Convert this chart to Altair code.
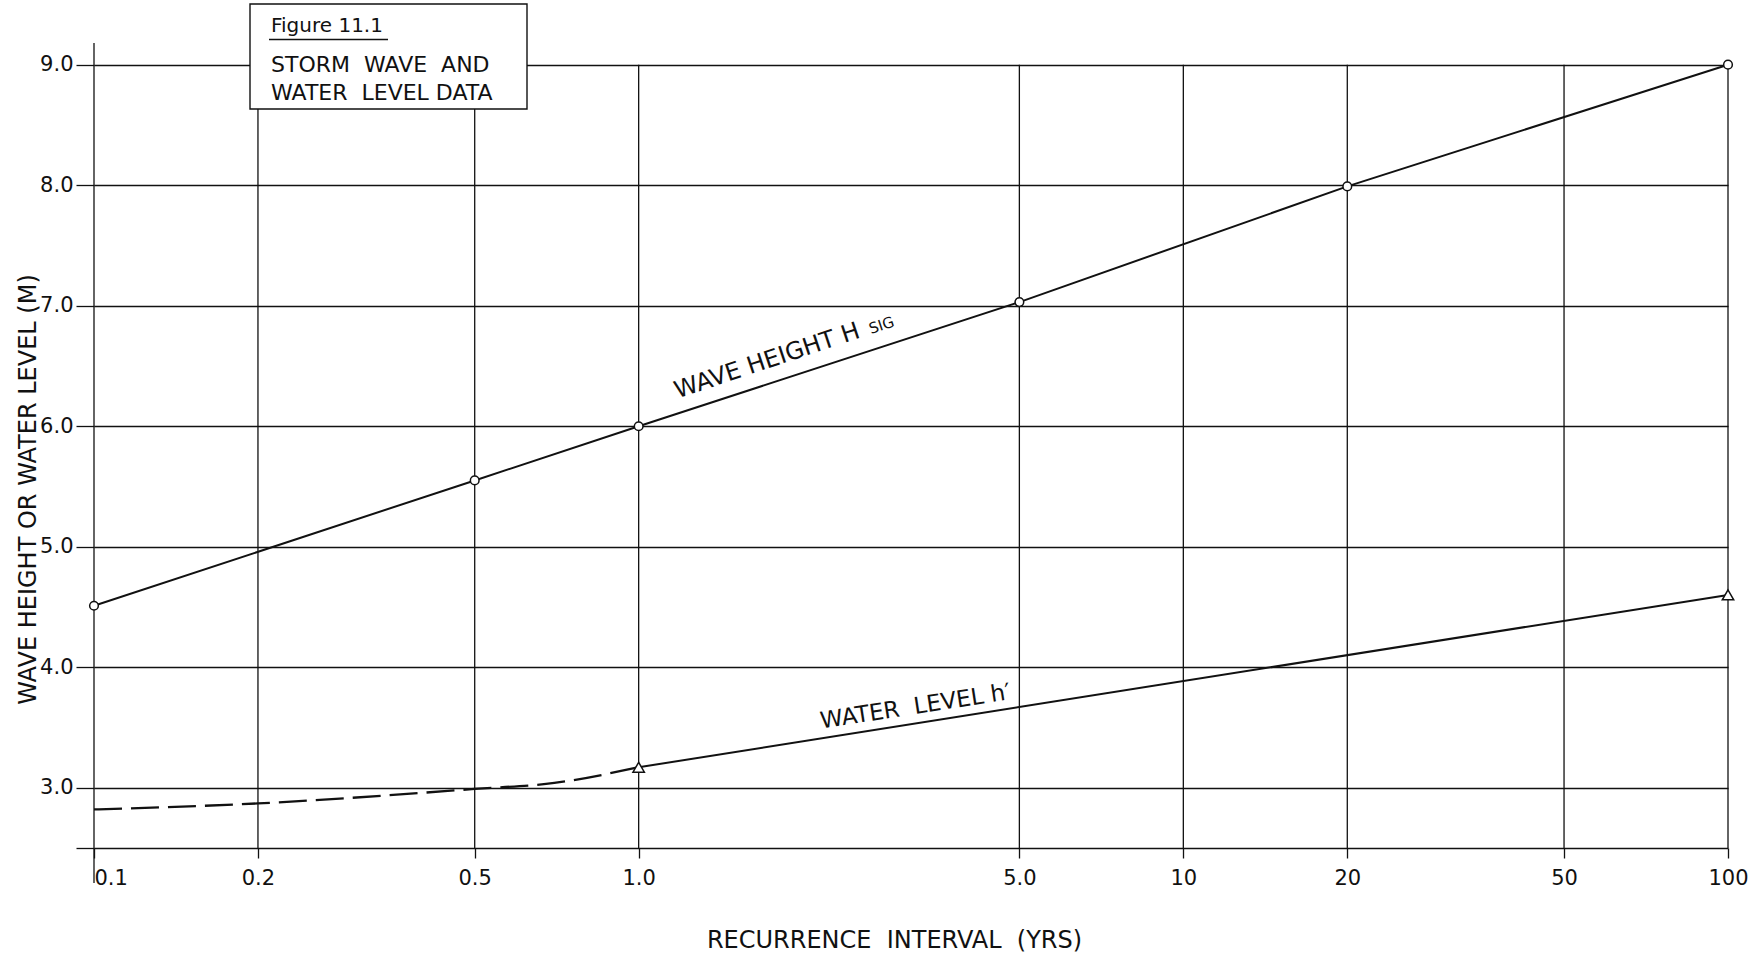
import altair as alt
import pandas as pd

FONT = "DejaVu Sans"
INK = "#111111"
SP2 = " \u00a0"  # wide word gap that survives SVG whitespace collapsing

# Significant wave height against recurrence interval
wave_period = [0.1, 0.5, 1.0, 5.0, 20, 100]
wave_height = [4.51, 5.55, 6.0, 7.03, 7.99, 9.0]

# Storm water level: estimated (dashed) below one year, fitted (solid) above
level_period_est = [0.1, 0.2, 0.5, 0.7, 1.0]
level_est = [2.82, 2.87, 2.99, 3.04, 3.17]
level_period = [1.0, 100]
level = [3.17, 4.6]
level_marker_period = [1.0, 100]
level_marker = [3.17, 4.6]

x_ticks = [0.1, 0.2, 0.5, 1.0, 5.0, 10, 20, 50, 100]
x_tick_labels = ["0.1", "0.2", "0.5", "1.0", "5.0", "10", "20", "50", "100"]
y_ticks = [2.5, 3.0, 4.0, 5.0, 6.0, 7.0, 8.0, 9.0]

box_lines = ["Figure 11.1", f"STORM{SP2}WAVE{SP2}AND", f"WATER{SP2}LEVEL DATA"]

X_MIN, X_MAX = 0.1, 100
Y_MIN, Y_MAX = 2.5, 9.18
W, H = 1634, 805

x_label_expr = " : ".join(
    f"datum.value == {v} ? '{lab}'" for v, lab in zip(x_ticks, x_tick_labels)
) + " : ''"

x_scale = alt.Scale(type="log", domain=[X_MIN, X_MAX], nice=False)
y_scale = alt.Scale(domain=[Y_MIN, Y_MAX], nice=False, zero=False)

x_axis = alt.Axis(
    values=x_ticks, labelExpr=x_label_expr, grid=False, domain=False,
    tickSize=10, tickColor=INK, tickWidth=1.3,
    labelFont=FONT, labelFontSize=21, labelColor=INK, labelPadding=9,
    labelAlign={"condition": {"test": "datum.value == 0.1", "value": "left"}, "value": "center"},
    labelFlush=False, labelOverlap=False, labelBaseline="top",
    title=f"RECURRENCE{SP2}INTERVAL{SP2}(YRS)", titleFont=FONT, titleFontSize=24,
    titleFontWeight="normal", titleColor=INK, titleX=800, titleY=92,
    titleAlign="center", titleBaseline="middle",
)
y_axis = alt.Axis(
    values=y_ticks, labelExpr="datum.value == 2.5 ? '' : format(datum.value, '.1f')",
    grid=True, gridColor=INK, gridWidth=1.3, gridOpacity=1, domain=False,
    tickSize=18, tickColor=INK, tickWidth=1.3,
    labelFont=FONT, labelFontSize=21, labelColor=INK, labelPadding=3,
    labelBaseline="middle", labelFlush=False, labelOverlap=False,
    title="WAVE HEIGHT OR WATER LEVEL (M)", titleFont=FONT, titleFontSize=24,
    titleFontWeight="normal", titleColor=INK, titleAngle=270, titleX=-66, titleY=446,
    titleAlign="center", titleBaseline="middle",
)


def xq(field="x"):
    return alt.X(f"{field}:Q", scale=x_scale, axis=x_axis)


def yq(field="y"):
    return alt.Y(f"{field}:Q", scale=y_scale, axis=y_axis)


# vertical grid: the 0.1 line is the left axis and runs to the top of the frame
vgrid = pd.DataFrame({
    "x": x_ticks,
    "y": [Y_MAX if v == X_MIN else 9.0 for v in x_ticks],
    "y2": [Y_MIN] * len(x_ticks),
})
vgrid_layer = alt.Chart(vgrid).mark_rule(color=INK, strokeWidth=1.3).encode(
    x=xq(), y=yq(), y2="y2:Q"
)
axis_ext = alt.Chart(pd.DataFrame({"x": [X_MIN], "y": [Y_MIN], "y2": [2.21]})).mark_rule(
    color=INK, strokeWidth=1.3
).encode(x=xq(), y=yq(), y2="y2:Q")

wave_df = pd.DataFrame({"x": wave_period, "y": wave_height})
wave_line = alt.Chart(wave_df).mark_line(color=INK, strokeWidth=2).encode(x=xq(), y=yq())
wave_pts = alt.Chart(wave_df).mark_point(
    shape="circle", size=75, filled=False, color=INK, fill="white", fillOpacity=1, strokeWidth=1.5
).encode(x=xq(), y=yq())

est_df = pd.DataFrame({"x": level_period_est, "y": level_est})
est_line = alt.Chart(est_df).mark_line(
    color=INK, strokeWidth=2.3, strokeDash=[28, 9], interpolate="monotone"
).encode(x=xq(), y=yq())
lvl_df = pd.DataFrame({"x": level_period, "y": level})
lvl_line = alt.Chart(lvl_df).mark_line(color=INK, strokeWidth=2).encode(x=xq(), y=yq())
lvl_pts = alt.Chart(pd.DataFrame({"x": level_marker_period, "y": level_marker})).mark_point(
    shape="triangle-up", size=130, filled=False, color=INK, fill="white", fillOpacity=1, strokeWidth=1.5
).encode(x=xq(), y=yq())

# curve labels laid along their lines
wave_lab = pd.DataFrame({"x": [1.2], "y": [6.12]})
wave_text = alt.Chart(wave_lab).mark_text(
    text="WAVE HEIGHT H", font=FONT, fontSize=24, color=INK, align="left",
    baseline="alphabetic", angle=341.6, dy=-14
).encode(x=xq(), y=yq())
wave_sub = alt.Chart(wave_lab).mark_text(
    text="SIG", font=FONT, fontSize=15, color=INK, align="left",
    baseline="alphabetic", angle=341.6, dx=204, dy=-14
).encode(x=xq(), y=yq())
lvl_lab = pd.DataFrame({"x": [2.18], "y": [3.41]})
lvl_text = alt.Chart(lvl_lab).mark_text(
    text=f"WATER{SP2}LEVEL h\u2032", font=FONT, fontSize=23, color=INK, align="left",
    baseline="alphabetic", angle=351.2, dy=-10
).encode(x=xq(), y=yq())

# figure caption box in the upper left corner
one = pd.DataFrame({"k": [0]})
box = alt.Chart(one).mark_rect(fill="white", stroke=INK, strokeWidth=1.4).encode(
    x=alt.value(156), x2=alt.value(433), y=alt.value(-39), y2=alt.value(66)
)
box_text = [
    alt.Chart(one).mark_text(
        text=t, font=FONT, fontSize=fs, color=INK, align="left", baseline="middle"
    ).encode(x=alt.value(177), y=alt.value(yy))
    for t, fs, yy in zip(box_lines, [20, 22, 22], [-17, 22, 50])
]
underline = alt.Chart(one).mark_rule(color=INK, strokeWidth=1.3).encode(
    x=alt.value(175), x2=alt.value(294), y=alt.value(-3.5)
)

chart = alt.layer(
    vgrid_layer, axis_ext, est_line, lvl_line, wave_line, wave_pts, lvl_pts,
    wave_text, wave_sub, lvl_text, box, underline, *box_text
).properties(
    width=W, height=H,
    autosize=alt.AutoSizeParams(type="none"),
    padding={"left": 94, "top": 43, "right": 36, "bottom": 111},
    background="white",
).configure_view(stroke=None)

chart.save("out.html", embed_options={"renderer": "svg", "actions": False})
